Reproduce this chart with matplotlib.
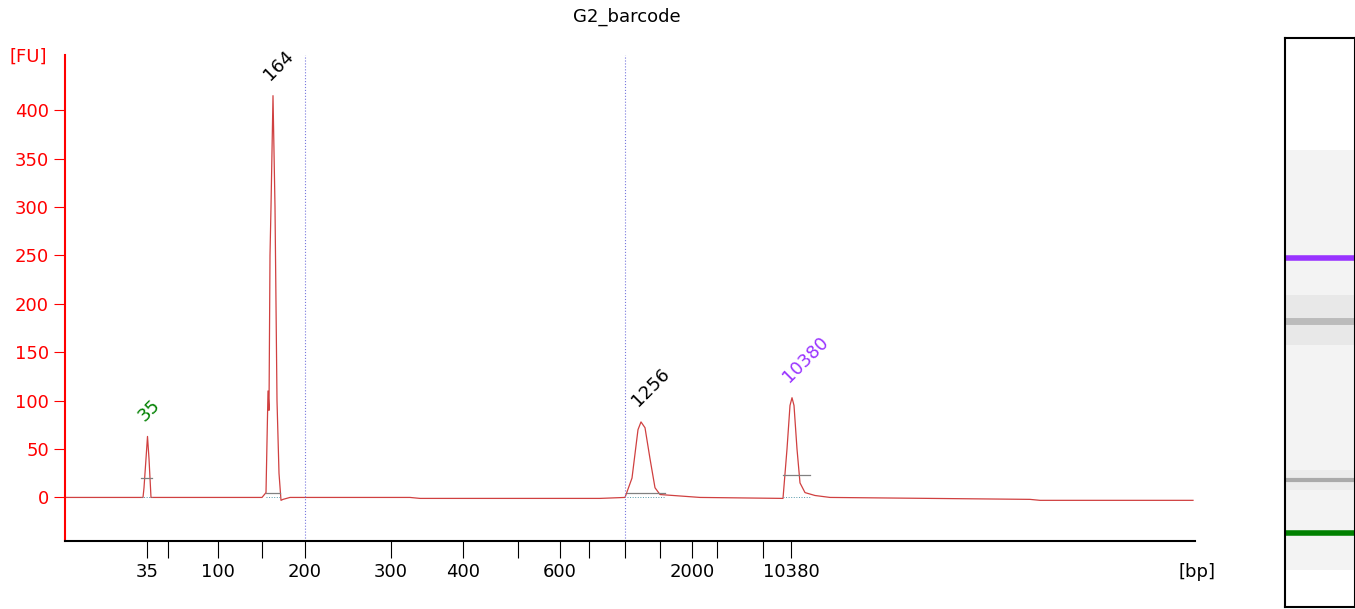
import matplotlib.pyplot as plt
from matplotlib.patches import Rectangle

# x positions are on the instrument's migration scale (screen units), labels in bp
tick_pos = [147, 168, 218, 262, 305, 391, 463, 518, 560, 589, 625, 660, 692, 717, 763, 791]
tick_lab = ['35', '', '100', '', '200', '300', '400', '', '600', '', '', '', '2000', '', '10380', '']
# the last labelled one shows 10380 under the peak
tick_lab = ['35', '', '100', '', '200', '300', '400', '', '600', '', '', '', '2000', '', '', '10380']

trace_x = [65, 143, 144, 146, 147.5, 149, 151, 262, 266, 268, 269, 270, 271, 273, 275, 277, 279, 281,
           283, 290, 410, 420, 600, 625, 632, 638, 641, 645, 650, 655, 660, 700, 783, 787, 790, 792,
           794, 797, 800, 805, 815, 830, 1030, 1040, 1090, 1193]
trace_y = [0, 0, 10, 40, 63, 40, 0, 0, 5, 110, 90, 250, 300, 415, 300, 100, 25, -3,
           -2, 0, 0, -1, -1, 0, 20, 70, 78, 72, 40, 10, 3, 0, -1, 50, 95, 103,
           95, 50, 15, 5, 2, 0, -2, -3, -3, -3]

peak_x = [147.5, 273, 641, 792]
peak_y = [63, 415, 78, 103]
peak_lab = ['35', '164', '1256', '10380']
peak_col = ['green', 'black', 'black', '#9933ff']
base_y = [20, 5, 5, 23]
base_x0 = [141, 266, 627, 783]
base_x1 = [152, 280, 665, 810]

fig = plt.figure(figsize=(13.55, 6.09), dpi=100)
ax = fig.add_axes([65 / 1355, 68 / 609, 1130 / 1355, 486 / 609])
ax.plot(trace_x, trace_y, color='#d04040', lw=0.9)
for x0, x1, y in zip(base_x0, base_x1, base_y):
    ax.plot([x0, x1], [y, y], color='gray', lw=0.9)
    ax.plot([x0, x1], [0, 0], color='#5599aa', lw=0.7, ls=':')
for x, y, t, c in zip(peak_x, peak_y, peak_lab, peak_col):
    ax.text(x, y + 12, t, color=c, rotation=45, fontsize=13, ha='left', va='bottom',
            rotation_mode='anchor')
for xv in [305, 625]:
    ax.axvline(xv, color='#7777dd', lw=0.8, ls=':')

ax.set_xlim(65, 1195)
ax.set_ylim(-45, 457)
ax.set_yticks(range(0, 401, 50))
ax.tick_params(axis='y', colors='red', labelsize=13, length=8)
ax.set_xticks(tick_pos)
ax.set_xticklabels(tick_lab, fontsize=13)
ax.tick_params(axis='x', length=12, labelsize=13)
ax.spines['top'].set_visible(False)
ax.spines['right'].set_visible(False)
ax.spines['left'].set_color('red')
ax.spines['left'].set_linewidth(1.5)
ax.spines['bottom'].set_linewidth(1.5)
fig.text(28 / 1355, 1 - 57 / 609, '[FU]', color='red', fontsize=13, ha='center', va='center')
fig.text(1197 / 1355, 1 - 572 / 609, '[bp]', fontsize=13, ha='center', va='center')
fig.text(627 / 1355, 1 - 17 / 609, 'G2_barcode', fontsize=13, ha='center', va='center')

# gel lane
gel = fig.add_axes([1285 / 1355, 2 / 609, 70 / 1355, 569 / 609])
gel.set_xlim(0, 1)
gel.set_ylim(607, 38)
gel.add_patch(Rectangle((0, 150), 1, 420, color='#f3f3f3', lw=0))
gel.add_patch(Rectangle((0, 295), 1, 50, color='#e8e8e8', lw=0))
gel.add_patch(Rectangle((0, 470), 1, 20, color='#ececec', lw=0))
band_y = [258, 321, 480, 533]
band_c = ['#9933ff', '#bbbbbb', '#aaaaaa', 'green']
band_w = [4, 5, 3, 4]
for y, c, w in zip(band_y, band_c, band_w):
    gel.axhline(y, color=c, lw=w)
gel.set_xticks([])
gel.set_yticks([])
for s in gel.spines.values():
    s.set_linewidth(1.5)

fig.savefig('out.png')
